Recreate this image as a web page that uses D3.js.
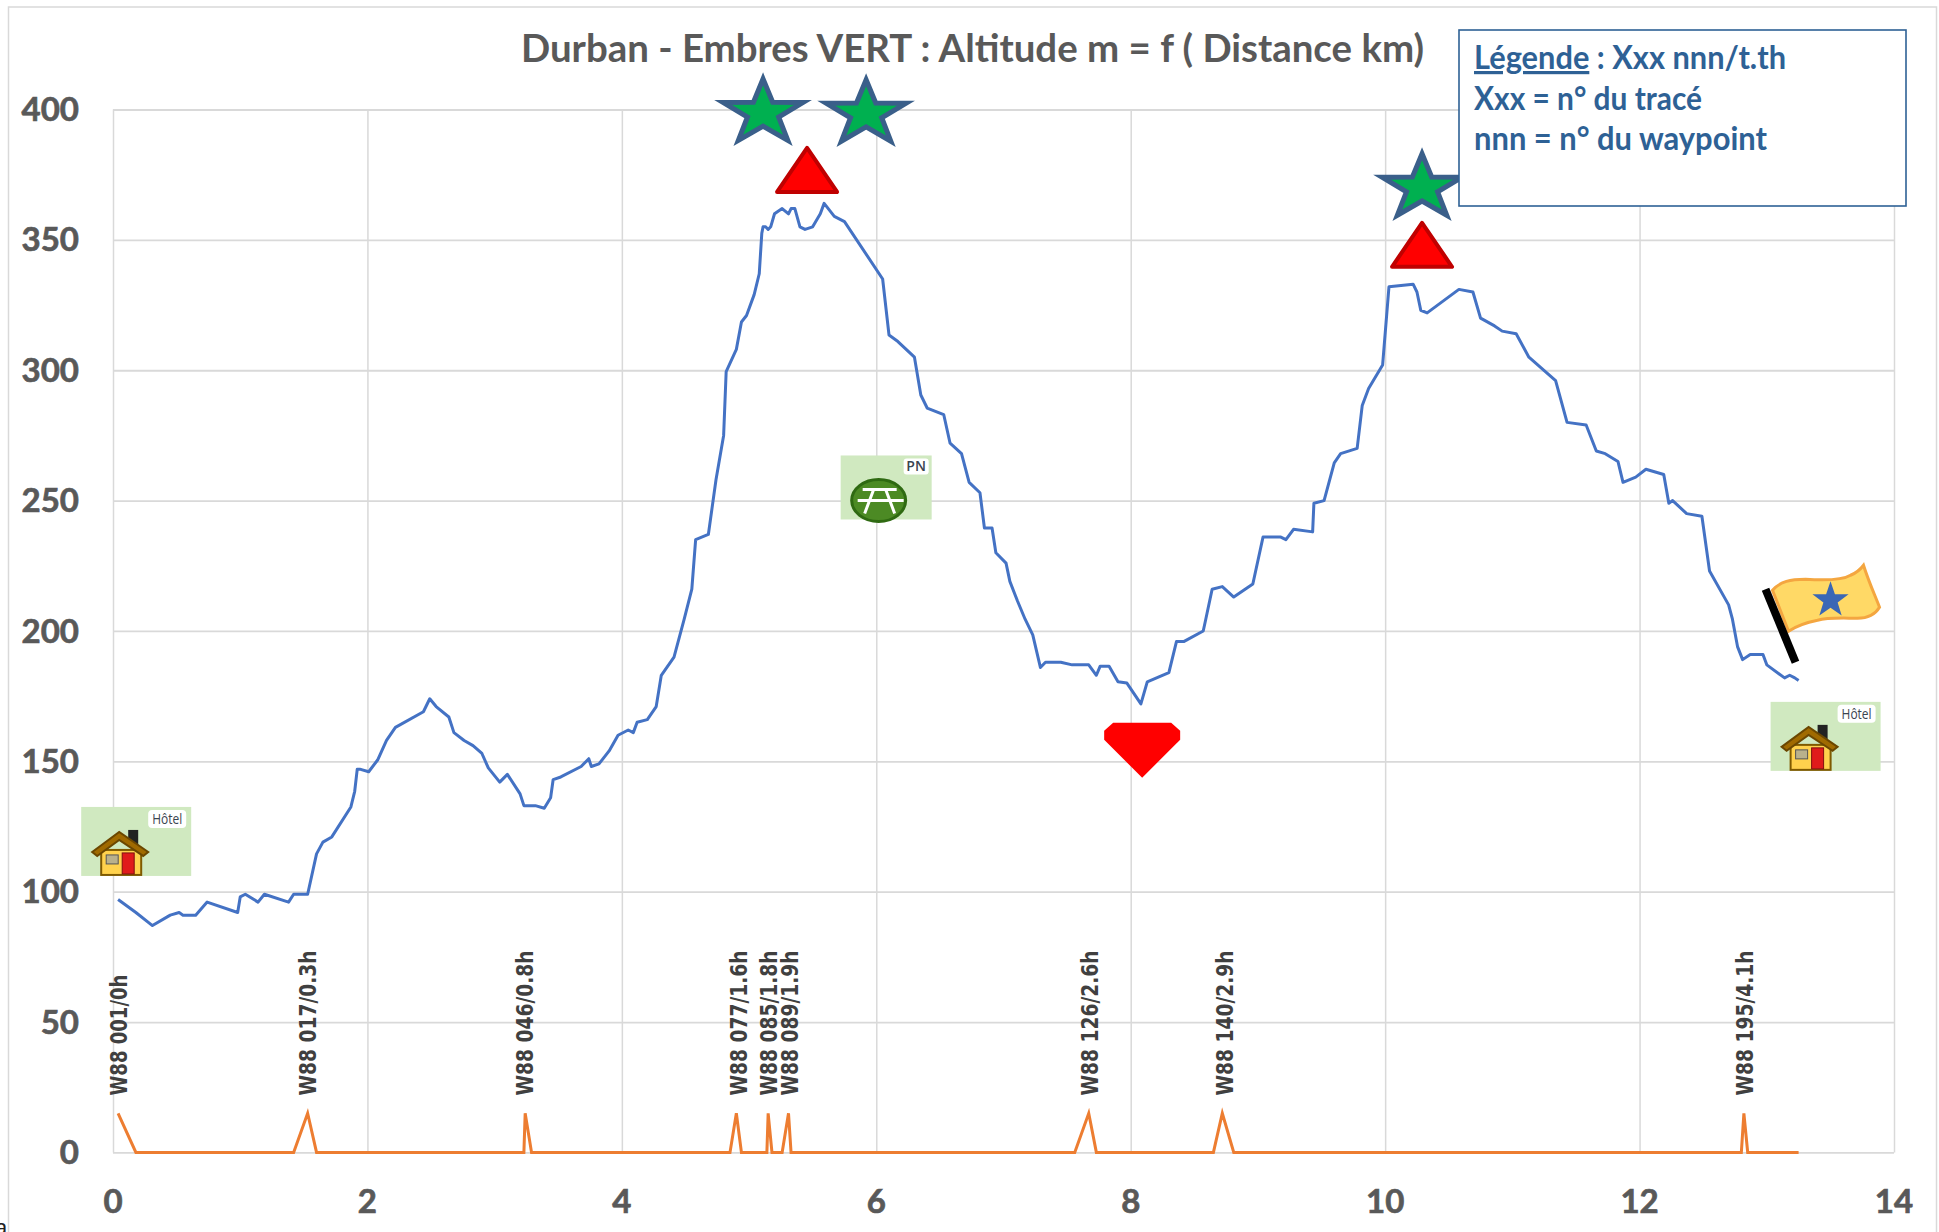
<!DOCTYPE html>
<html><head><meta charset="utf-8">
<script src="https://cdn.jsdelivr.net/npm/d3@7"></script>
<style>html,body{margin:0;padding:0;background:#fff;overflow:hidden}svg{display:block}</style>
</head><body><svg id="c" width="1939" height="1232"></svg>
<script>
const titleText = "Durban - Embres VERT : Altitude m = f ( Distance km)";
const legendLines = ["Xxx = n° du tracé", "nnn = n° du waypoint"];
const xTicks = [0,2,4,6,8,10,12,14];
const yTicks = [0,50,100,150,200,250,300,350,400];

const altKm = [.04,.18,.31,.45,.52,.55,.65,.74,.98,1.0,1.04,1.14,1.19,1.38,1.42,1.53,1.60,1.65,1.72,1.87,1.90,1.92,1.94,2.01,2.08,2.15,2.22,2.44,2.49,2.54,2.64,2.68,2.76,2.83,2.90,2.95,3.04,3.10,3.20,3.23,3.32,3.39,3.44,3.46,3.52,3.68,3.74,3.76,3.82,3.90,3.97,4.05,4.09,4.12,4.20,4.27,4.31,4.41,4.49,4.55,4.58,4.68,4.74,4.80,4.82,4.90,4.94,4.98,5.04,5.08,5.10,5.11,5.13,5.15,5.17,5.20,5.26,5.31,5.33,5.36,5.40,5.44,5.50,5.56,5.59,5.67,5.75,6.05,6.10,6.17,6.30,6.35,6.40,6.53,6.58,6.67,6.73,6.815,6.85,6.91,6.94,7.02,7.05,7.11,7.17,7.23,7.29,7.33,7.45,7.54,7.67,7.73,7.76,7.83,7.90,7.97,8.08,8.13,8.30,8.36,8.42,8.57,8.59,8.64,8.72,8.81,8.96,9.04,9.18,9.22,9.28,9.43,9.44,9.52,9.60,9.65,9.78,9.82,9.87,9.98,10.03,10.22,10.25,10.28,10.33,10.58,10.69,10.75,10.86,10.92,11.03,11.13,11.34,11.43,11.58,11.66,11.73,11.83,11.87,11.97,12.05,12.19,12.23,12.26,12.37,12.49,12.55,12.70,12.73,12.77,12.81,12.87,12.97,13.0,13.14,13.18,13.22,13.25];
const altM = [97,92,87,91,92,91,91,96,92,98,99,96,99,96,99,99,114.5,119,121,132.5,138.5,147,147,146,150.5,158,163,169,174,171,167,161,158,156,153,147.5,142,145,137.5,133,133,132,136,143,144,148,151,148,149,154,160,162,161,165,166,171,183,190,204.5,216,235,237,258,275,299.5,308,318.5,321,329,337,352.5,355,355,354,355,360,362,360,362,362,355,354,355,360,364,359,357,335,313.5,311,305,290.5,285.5,283,272,268,257,253,239.5,239.5,230,226,219,211.5,204.5,198.5,186,188,188,187,187,183,186.5,186.5,180.5,180,172,180.5,184,196,196,200,204.5,216,217,213,218,236,236,235,239,238,249,250,264.5,268,270,286.5,293,302,332,333,330,323,322,331,330,320,317,315,314,305,296,280,279,269,268,265,257,259,262,260,249,250,245,244,223,210,204.5,194,189,191,191,187,182,183,182,181];

const markKm = [.04,.18,1.42,1.53,1.60,3.23,3.24,3.29,4.85,4.90,4.94,5.14,5.15,5.18,5.26,5.31,5.33,7.56,7.67,7.73,8.65,8.72,8.81,12.80,12.82,12.85,13.25];
const markV  = [15,0,0,15,0,0,15,0,0,15,0,0,15,0,0,15,0,0,15,0,0,15,0,0,15,0,0];

const wpNames = ["W88 001/0h","W88 017/0.3h","W88 046/0.8h","W88 077/1.6h","W88 085/1.8h","W88 089/1.9h","W88 126/2.6h","W88 140/2.9h","W88 195/4.1h"];
const wpKm = [.05,1.53,3.24,4.92,5.16,5.32,7.68,8.74,12.83];
const wpAlt = 21.8;

const starKm = [5.11,5.92,10.29], starAlt = [398.7,398.4,370];
const triKm = [5.456,10.29], triAlt = [367.6,338.9];
const vallKm = [8.09], vallAlt = [164.8];
const hotelKm = [-.25,13.03], hotelAlt = [132.5,172.8];
const picnicKm = [5.72], picnicAlt = [267.3];
const flagKm = [12.99], flagAlt = [216];

const svg = d3.select("#c");
const x = d3.scaleLinear().domain([0,14]).range([113,1894]);
const y = d3.scaleLinear().domain([0,400]).range([1152.4,109.5]);
const FONT = "Lato, 'Open Sans', sans-serif";

svg.append("rect").attr("x",8.5).attr("y",7).attr("width",1928).attr("height",1240)
  .attr("fill","#fff").attr("stroke","#d9d9d9").attr("stroke-width",1.5);

const gx = svg.append("g").attr("transform",`translate(0,${y(0)})`)
  .call(d3.axisBottom(x).tickValues(xTicks).tickSize(y(400)-y(0)).tickPadding(0));
gx.select(".domain").remove();
gx.selectAll("line").attr("stroke","#d9d9d9").attr("stroke-width",1.5);
gx.selectAll("text").remove();
const gy = svg.append("g").attr("transform",`translate(${x(0)},0)`)
  .call(d3.axisLeft(y).tickValues(yTicks).tickSize(x(0)-x(14)).tickPadding(0));
gy.select(".domain").remove();
gy.selectAll("line").attr("stroke","#d9d9d9").attr("stroke-width",1.8);
gy.selectAll("text").remove();

const tick = {fill:"#595959",stroke:"#595959","stroke-width":"0.7px","font-family":FONT,"font-weight":700,"font-size":"33px"};
const yl = svg.append("g").selectAll("text").data(yTicks).join("text")
  .attr("x",79).attr("y",d=>y(d)).attr("dy","0.35em").attr("text-anchor","end").text(d=>d);
const xl = svg.append("g").selectAll("text").data(xTicks).join("text")
  .attr("x",d=>x(d)).attr("y",1201).attr("dy","0.35em").attr("text-anchor","middle").text(d=>d);
for (const [k,v] of Object.entries(tick)) { yl.style(k,v); xl.style(k,v); }

const line = d3.line().x(d=>x(d[0])).y(d=>y(d[1]));
svg.append("path").datum(d3.zip(altKm,altM)).attr("d",line).attr("fill","none")
  .attr("stroke","#4472c4").attr("stroke-width",3).attr("stroke-linejoin","round");
svg.append("path").datum(d3.zip(markKm,markV)).attr("d",line).attr("fill","none")
  .attr("stroke","#ed7d31").attr("stroke-width",3).attr("stroke-linejoin","miter");

svg.append("g").selectAll("text").data(wpNames).join("text")
  .attr("transform",(d,i)=>`translate(${x(wpKm[i])+8},${y(wpAlt)}) rotate(-90)`)
  .attr("textLength",d=>d.length*12.1).attr("lengthAdjust","spacingAndGlyphs")
  .style("font-family","'DejaVu Sans'").style("font-weight",700).style("font-size","23px")
  .style("fill","#404040").text(d=>d);

svg.append("text").attr("x",521).attr("y",62).attr("textLength",903).attr("lengthAdjust","spacingAndGlyphs")
  .style("font-family",FONT).style("font-weight",700).style("font-size","39px").style("fill","#595959").text(titleText);

// pictograms
const starPath = d3.line()(d3.range(10).map(i=>{
  const k = i%2 ? 0.39 : 1, a = -Math.PI/2 + i*Math.PI/5;
  return [42*k*Math.cos(a), 34*k*Math.sin(a)];
}))+"Z";
svg.append("g").selectAll("path").data(starKm).join("path")
  .attr("transform",(d,i)=>`translate(${x(d)},${y(starAlt[i])})`).attr("d",starPath)
  .attr("fill","#00b050").attr("stroke","#3a5f8a").attr("stroke-width",5).attr("stroke-linejoin","miter");

svg.append("g").selectAll("path").data(triKm).join("path")
  .attr("transform",(d,i)=>`translate(${x(d)},${y(triAlt[i])})`)
  .attr("d","M0,-46L30,-2L-30,-2Z")
  .attr("fill","#ff0000").attr("stroke","#c00000").attr("stroke-width",4).attr("stroke-linejoin","round");

svg.append("g").selectAll("path").data(vallKm).join("path")
  .attr("transform",(d,i)=>`translate(${x(d)},${y(vallAlt[i])})`)
  .attr("d","M-29,0L29,0L38,8L38,17L0,55L-38,17L-38,8Z").attr("fill","#ff0000");

function house(g){
  g.append("rect").attr("x",47).attr("y",23).attr("width",10).attr("height",16).attr("fill","#222");
  g.append("rect").attr("x",20).attr("y",43).attr("width",40).attr("height",25).attr("fill","#ffd24d").attr("stroke","#7f5a00").attr("stroke-width",2);
  g.append("path").attr("d","M11,45L38,25L67,45L62,49L38,33L16,49Z").attr("fill","#a06a00").attr("stroke","#6b4700").attr("stroke-width",2);
  g.append("rect").attr("x",41).attr("y",46).attr("width",12).attr("height",21).attr("fill","#e01b1b").attr("stroke","#7f1010");
  g.append("rect").attr("x",25).attr("y",48).attr("width",12).attr("height",9).attr("fill","#b9b18c").attr("stroke","#555");
}
hotelKm.forEach((k,i)=>{
  const g = svg.append("g").attr("transform",`translate(${x(k)},${y(hotelAlt[i])})`);
  g.append("rect").attr("width",110).attr("height",69).attr("fill","#d0e9c0");
  g.append("rect").attr("x",67).attr("y",3).attr("width",38).attr("height",18).attr("rx",4).attr("fill","#fff");
  g.append("text").attr("x",86).attr("y",17).attr("text-anchor","middle").attr("textLength",30).attr("lengthAdjust","spacingAndGlyphs")
    .style("font-family","'Open Sans'").style("font-size","15px").style("fill","#3b4450").text("Hôtel");
  house(g);
});

picnicKm.forEach((k,i)=>{
  const g = svg.append("g").attr("transform",`translate(${x(k)},${y(picnicAlt[i])})`);
  g.append("rect").attr("width",91).attr("height",64).attr("fill","#d0e9c0");
  g.append("rect").attr("x",63).attr("y",3).attr("width",25).attr("height",16).attr("rx",3).attr("fill","#fff");
  g.append("text").attr("x",75.5).attr("y",16).attr("text-anchor","middle").style("font-family","'Open Sans'").style("font-weight",600).style("font-size","14px").style("fill","#3b4450").text("PN");
  g.append("ellipse").attr("cx",38).attr("cy",45).attr("rx",27).attr("ry",21).attr("fill","#4c8a24").attr("stroke","#2f6a12").attr("stroke-width",3);
  g.append("path").attr("d","M22,34H56M17,45H63M33,34L24,58M45,34L54,58").attr("stroke","#fff").attr("stroke-width",3).attr("fill","none");
});

flagKm.forEach((k,i)=>{
  const g = svg.append("g").attr("transform",`translate(${x(k)},${y(flagAlt[i])})`);
  g.append("path").attr("d","M7,1C15,-8 25,-10 40,-10C55,-9 75,-8 85,-14C90,-16 95,-20 98,-24C103,-8 109,5 114,18C108,28 98,29 92,29C78,29 62,28 52,31C42,33 32,36 23,42Z")
   .attr("fill","#ffd966").attr("stroke","#f4a640").attr("stroke-width",3);
  g.append("path").attr("d",d3.line()(d3.range(10).map(j=>{const r=j%2?7.5:19,a=-Math.PI/2+j*Math.PI/5;return [65+r*Math.cos(a),11+r*Math.sin(a)];}))+"Z").attr("fill","#3a67b5");
  g.append("line").attr("x1",0).attr("y1",0).attr("x2",30).attr("y2",73).attr("stroke","#000").attr("stroke-width",8);
});

// legend box
svg.append("rect").attr("x",1459).attr("y",30).attr("width",447).attr("height",176)
  .attr("fill","#fff").attr("stroke","#2e6195").attr("stroke-width",1.6);
const lg = {ff:FONT,col:"#2e6195"};
const l1 = svg.append("text").attr("x",1474).attr("y",69).attr("textLength",312).attr("lengthAdjust","spacingAndGlyphs")
  .style("font-family",lg.ff).style("font-weight",700).style("font-size","32px").style("fill",lg.col);
l1.append("tspan").style("text-decoration","underline").text("Légende");
l1.append("tspan").text(" : Xxx nnn/t.th");
svg.append("g").selectAll("text").data(legendLines).join("text")
  .attr("x",1474).attr("y",(d,i)=>110+i*40).attr("textLength",(d,i)=>[228,293][i]).attr("lengthAdjust","spacingAndGlyphs")
  .style("font-family",lg.ff).style("font-weight",700).style("font-size","32px").style("fill",lg.col).text(d=>d);

svg.append("text").attr("x",-5).attr("y",1235).style("font-family","'Liberation Sans'").style("font-size","22px").style("fill","#222").text("a");
</script></body></html>
